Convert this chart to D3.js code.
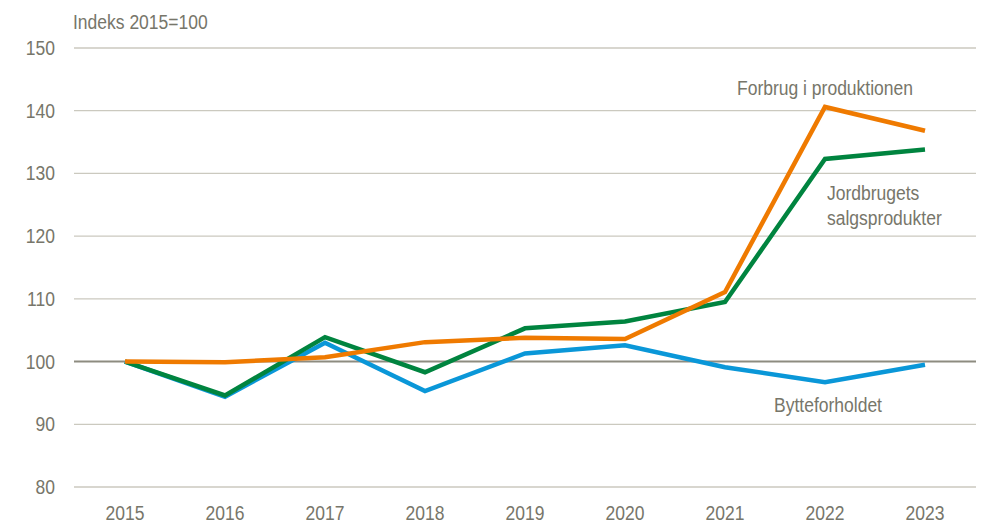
<!DOCTYPE html>
<html>
<head>
<meta charset="utf-8">
<script src="https://cdn.jsdelivr.net/npm/d3@7"></script>
<style>
  body { margin: 0; background: #fff; }
  svg text { font-family: "Liberation Sans Narrow", "Arial Narrow", "Liberation Sans", Arial, sans-serif; fill: #77766a; font-size: 20px; }
</style>
</head>
<body>
<svg id="chart" width="993" height="529"></svg>
<script>
const years = ['2015', '2016', '2017', '2018', '2019', '2020', '2021', '2022', '2023'];
const forbrug = [100, 99.9, 100.7, 103.1, 103.8, 103.6, 111.1, 140.6, 136.8];
const jordbrug = [100, 94.6, 103.9, 98.3, 105.3, 106.4, 109.5, 132.3, 133.8];
const bytte = [100, 94.4, 103.0, 95.3, 101.3, 102.6, 99.1, 96.7, 99.5];
const yTicks = [80, 90, 100, 110, 120, 130, 140, 150];

const svg = d3.select('#chart');

const x = d3.scalePoint().domain(years).range([75, 975]).padding(0.5);
const y = d3.scaleLinear().domain([80, 150]).range([487, 48]);

// no narrow font installed, so squeeze the regular one
const squeeze = 0.875;
function label(sel, px, py, str, anchor) {
  return sel.append('text')
    .attr('transform', `translate(${px},${py}) scale(${squeeze},1)`)
    .attr('text-anchor', anchor || 'start')
    .text(str);
}

// gridlines
svg.append('g')
  .selectAll('line')
  .data(yTicks)
  .join('line')
  .attr('x1', 74)
  .attr('x2', 976)
  .attr('y1', d => y(d))
  .attr('y2', d => y(d))
  .attr('stroke', d => d === 100 ? '#8d8c80' : '#cbc9bf')
  .attr('stroke-width', d => d === 100 ? 2 : 1.3);

// y axis labels
const yl = svg.append('g');
yTicks.forEach(t => label(yl, 55, y(t) + 7, t, 'end'));

// x axis labels
const xl = svg.append('g');
years.forEach(yr => label(xl, x(yr), 520, yr, 'middle'));

label(svg, 73, 29, 'Indeks 2015=100');

const line = d3.line()
  .x((d, i) => x(years[i]))
  .y(d => y(d));

const series = [
  { values: bytte, color: '#0a97d8' },
  { values: jordbrug, color: '#00843f' },
  { values: forbrug, color: '#ef7a00' }
];

svg.append('g')
  .selectAll('path')
  .data(series)
  .join('path')
  .attr('fill', 'none')
  .attr('stroke', d => d.color)
  .attr('stroke-width', 4.5)
  .attr('d', d => line(d.values));

// annotations
label(svg, 825, 95, 'Forbrug i produktionen', 'middle');
label(svg, 827, 200, 'Jordbrugets');
label(svg, 827, 225, 'salgsprodukter');
label(svg, 828, 412, 'Bytteforholdet', 'middle');
</script>
</body>
</html>
